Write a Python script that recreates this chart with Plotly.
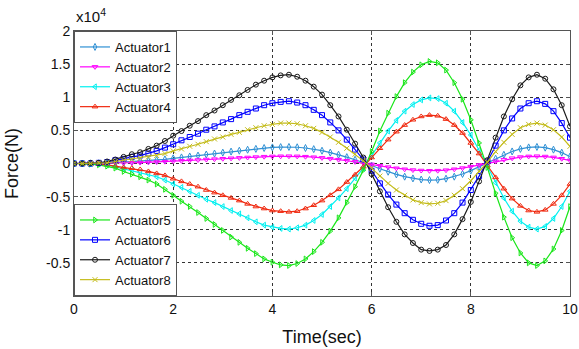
import plotly.graph_objects as go

# Sampling grid (seconds): uniform 1/6 s steps from 0 to 10
TIME = [k / 6 for k in range(61)]

# Forces in units of 1e4 N
actuator1 = [0, 0.000, 0.001, 0.003, 0.006, 0.012, 0.019, 0.026, 0.033, 0.041, 0.051, 0.063, 0.078, 0.092, 0.106, 0.120,
             0.136, 0.150, 0.164, 0.180, 0.193, 0.208, 0.221, 0.234, 0.243, 0.248, 0.250, 0.245, 0.234, 0.217, 0.193,
             0.165, 0.133, 0.096, 0.057, 0.017, -0.030, -0.079, -0.124, -0.165, -0.199, -0.225, -0.242, -0.250, -0.246,
             -0.229, -0.199, -0.158, -0.108, -0.051, 0.009, 0.073, 0.132, 0.182, 0.220, 0.243, 0.250, 0.239, 0.209,
             0.164, 0.105]
actuator2 = [0, 0.000, 0.000, 0.001, 0.003, 0.005, 0.008, 0.011, 0.014, 0.018, 0.022, 0.028, 0.034, 0.040, 0.047, 0.053,
             0.060, 0.066, 0.072, 0.079, 0.085, 0.091, 0.097, 0.103, 0.107, 0.109, 0.110, 0.108, 0.103, 0.095, 0.085,
             0.073, 0.058, 0.042, 0.025, 0.007, -0.013, -0.035, -0.055, -0.072, -0.087, -0.099, -0.106, -0.110, -0.108,
             -0.101, -0.087, -0.069, -0.047, -0.022, 0.004, 0.032, 0.058, 0.080, 0.097, 0.107, 0.110, 0.105, 0.092,
             0.072, 0.046]
actuator3 = [0, -0.00, -0.00, -0.01, -0.02, -0.05, -0.08, -0.10, -0.13, -0.16, -0.20, -0.25, -0.31, -0.36, -0.42, -0.48,
             -0.54, -0.59, -0.65, -0.71, -0.76, -0.82, -0.88, -0.93, -0.96, -0.98, -0.99, -0.97, -0.93, -0.86, -0.77,
             -0.65, -0.52, -0.38, -0.22, -0.07, 0.12, 0.31, 0.49, 0.65, 0.79, 0.89, 0.96, 0.99, 0.98,
             0.91, 0.79, 0.62, 0.43, 0.20, -0.04, -0.29, -0.52, -0.72, -0.87, -0.96, -0.99, -0.95, -0.83,
             -0.65, -0.42]
actuator4 = [0, 0.00, -0.00, -0.01, -0.02, -0.04, -0.06, -0.07, -0.09, -0.12, -0.15, -0.18, -0.23, -0.27, -0.31, -0.35,
             -0.40, -0.44, -0.48, -0.52, -0.56, -0.61, -0.65, -0.68, -0.71, -0.72, -0.73, -0.72, -0.68, -0.63, -0.56,
             -0.48, -0.39, -0.28, -0.17, -0.05, 0.09, 0.23, 0.36, 0.48, 0.58, 0.66, 0.71, 0.73, 0.72,
             0.67, 0.58, 0.46, 0.31, 0.15, -0.03, -0.21, -0.38, -0.53, -0.64, -0.71, -0.73, -0.70, -0.61,
             -0.48, -0.31]
actuator5 = [0, -0.00, -0.01, -0.02, -0.04, -0.07, -0.12, -0.16, -0.20, -0.25, -0.31, -0.39, -0.48, -0.57, -0.65, -0.74,
             -0.83, -0.92, -1.01, -1.11, -1.19, -1.28, -1.36, -1.44, -1.49, -1.53, -1.54, -1.51, -1.44, -1.33, -1.19,
             -1.02, -0.82, -0.59, -0.35, -0.10, 0.18, 0.49, 0.76, 1.01, 1.22, 1.38, 1.49, 1.54, 1.52,
             1.41, 1.22, 0.97, 0.66, 0.31, -0.06, -0.45, -0.81, -1.12, -1.35, -1.50, -1.54, -1.47, -1.29,
             -1.01, -0.65]
actuator6 = [0, 0.00, 0.00, 0.01, 0.02, 0.05, 0.07, 0.10, 0.12, 0.15, 0.19, 0.24, 0.29, 0.35, 0.40, 0.45,
             0.51, 0.56, 0.62, 0.67, 0.73, 0.78, 0.83, 0.88, 0.91, 0.93, 0.94, 0.92, 0.88, 0.81, 0.73,
             0.62, 0.50, 0.36, 0.21, 0.06, -0.11, -0.30, -0.47, -0.62, -0.75, -0.85, -0.91, -0.94, -0.93,
             -0.86, -0.75, -0.59, -0.40, -0.19, 0.03, 0.27, 0.50, 0.68, 0.83, 0.91, 0.94, 0.90, 0.79,
             0.61, 0.39]
actuator7 = [0, 0.00, 0.01, 0.01, 0.03, 0.06, 0.10, 0.14, 0.17, 0.22, 0.27, 0.34, 0.42, 0.49, 0.57, 0.64,
             0.73, 0.80, 0.88, 0.96, 1.03, 1.11, 1.19, 1.25, 1.30, 1.33, 1.34, 1.31, 1.25, 1.16, 1.04,
             0.88, 0.71, 0.51, 0.30, 0.09, -0.16, -0.42, -0.66, -0.88, -1.07, -1.20, -1.30, -1.32, -1.30,
             -1.23, -1.07, -0.84, -0.58, -0.27, 0.05, 0.39, 0.71, 0.97, 1.18, 1.30, 1.34, 1.28, 1.12,
             0.88, 0.56]
actuator8 = [0, 0.00, 0.00, 0.01, 0.01, 0.03, 0.05, 0.06, 0.08, 0.10, 0.12, 0.15, 0.19, 0.22, 0.26, 0.29,
             0.33, 0.37, 0.40, 0.44, 0.47, 0.51, 0.54, 0.57, 0.59, 0.61, 0.61, 0.60, 0.57, 0.53, 0.47,
             0.40, 0.32, 0.23, 0.14, 0.04, -0.07, -0.19, -0.30, -0.40, -0.48, -0.55, -0.59, -0.61, -0.60,
             -0.56, -0.48, -0.38, -0.26, -0.12, 0.02, 0.18, 0.32, 0.44, 0.54, 0.59, 0.61, 0.58, 0.51,
             0.40, 0.26]

NAMES = ["Actuator1", "Actuator2", "Actuator3", "Actuator4",
         "Actuator5", "Actuator6", "Actuator7", "Actuator8"]
SERIES = [actuator1, actuator2, actuator3, actuator4,
          actuator5, actuator6, actuator7, actuator8]
COLORS = ["#2f90d4", "#ff00ff", "#00f0f0", "#f02a10",
          "#19e619", "#0000ff", "#1a1a1a", "#c4bc1c"]
SYMBOLS = ["diamond-tall-open", "triangle-down-open", "triangle-left-open", "triangle-up-open",
           "triangle-right-open", "square-open", "circle-open", "x-thin-open"]
LEGENDS = ["legend", "legend", "legend", "legend",
           "legend2", "legend2", "legend2", "legend2"]

Y_TICKVALS = [-1.5, -1, -0.5, 0, 0.5, 1, 1.5, 2]
Y_TICKTEXT = ["-0.5", "-1", "-0.5", "0", "0.5", "1", "1.5", "2"]
X_TICKVALS = [0, 2, 4, 6, 8, 10]

FONT = "Liberation Sans, Arial, sans-serif"

fig = go.Figure()
for name, ys, col, sym, lg in zip(NAMES, SERIES, COLORS, SYMBOLS, LEGENDS):
    fig.add_trace(go.Scatter(
        x=TIME, y=ys, name=name, mode="lines+markers",
        line=dict(color=col, width=1.2),
        marker=dict(symbol=sym, size=5, color=col, line=dict(width=1, color=col)),
        legend=lg,
    ))

axis_common = dict(
    showline=True, linecolor="#555", linewidth=1, mirror="ticks",
    ticks="inside", ticklen=4, tickcolor="#555",
    showgrid=True, gridcolor="#333", griddash="dot", gridwidth=1,
    zeroline=False, automargin=False,
    tickfont=dict(size=14, color="#111", family=FONT),
)

fig.update_xaxes(range=[0, 10], tickvals=X_TICKVALS,
                 title=dict(text="Time(sec)", font=dict(size=18, color="#111", family=FONT), standoff=14),
                 **axis_common)
fig.update_yaxes(range=[-2, 2], tickvals=Y_TICKVALS, ticktext=Y_TICKTEXT,
                 title=dict(text="Force(N)", font=dict(size=18, color="#111", family=FONT), standoff=22),
                 **axis_common)

legend_common = dict(
    bgcolor="white", bordercolor="#555", borderwidth=1,
    font=dict(size=13, color="#111", family=FONT),
    xanchor="left", x=0, tracegroupgap=0, itemwidth=30,
)
fig.update_layout(
    width=579, height=349,
    margin=dict(l=74, r=9, t=31, b=53, autoexpand=False),
    plot_bgcolor="white", paper_bgcolor="white",
    font=dict(family=FONT, color="#111"),
    legend=dict(yanchor="top", y=1, **legend_common),
    legend2=dict(yanchor="bottom", y=0, **legend_common),
    annotations=[dict(text="x10<sup>4</sup>", xref="paper", yref="paper",
                      x=0, y=1.015, xanchor="left", yanchor="bottom", showarrow=False,
                      font=dict(size=15, color="#111", family=FONT))],
)

# Remove the browser's default page margin so the 579x349 figure fills the window exactly.
fig.write_html("out.html",
               config={"displayModeBar": False},
               post_script="document.body.style.margin='0';document.body.style.overflow='hidden';")
